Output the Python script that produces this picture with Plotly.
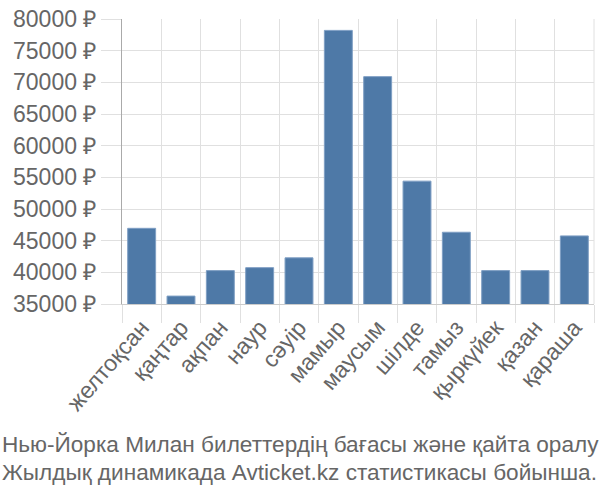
import plotly.graph_objects as go

months = ["желтоқсан", "қаңтар", "ақпан", "наур", "сәуір", "мамыр", "маусым",
          "шілде", "тамыз", "қыркүйек", "қазан", "қараша"]
prices = [46950, 36250, 40270, 40740, 42290, 78200, 70900, 54400, 46330, 40270, 40270, 45750]
y_ticks = [35000, 40000, 45000, 50000, 55000, 60000, 65000, 70000, 75000, 80000]
y_labels = [f"{v} ₽" for v in y_ticks]
title_lines = ["Нью-Йорка Милан билеттердің бағасы және қайта оралу",
               "Жылдық динамикада Avticket.kz статистикасы бойынша."]

fig = go.Figure(go.Bar(
    x=months, y=prices,
    marker=dict(color="#4e79a7", line=dict(color="#7f9fc4", width=1)),
))

fig.update_layout(
    width=600, height=500,
    margin=dict(l=122, r=6, t=14, b=196),
    paper_bgcolor="white", plot_bgcolor="white",
    bargap=0.29,
    showlegend=False,
    font=dict(family="Liberation Sans, Arial, sans-serif", size=19, color="#666"),
)
fig.update_yaxes(
    range=[35000, 80000],
    tickvals=y_ticks, ticktext=y_labels,
    showgrid=True, gridcolor="#e0e0e0", gridwidth=1,
    ticks="outside", ticklen=20, tickcolor="#e0e0e0",
    showline=True, linecolor="#aaaaaa", linewidth=1,
    zeroline=False,
    tickfont=dict(size=23, color="#666"),
)
fig.update_xaxes(
    tickangle=-49,
    showgrid=True, gridcolor="#e0e0e0", gridwidth=1,
    tickson="boundaries",
    ticks="outside", ticklen=18, tickcolor="#e0e0e0",
    showline=True, linecolor="#cccccc", linewidth=1,
    tickfont=dict(size=23, color="#666"),
)
fig.update_layout(shapes=[dict(type="line", xref="paper", yref="paper", x0=1, x1=1, y0=0, y1=1,
                               line=dict(color="#e0e0e0", width=1), layer="below")])

for i, line in enumerate(title_lines):
    fig.add_annotation(
        text=line, xref="paper", yref="paper",
        x=-122/472, xanchor="left",
        y=-(447 - 304) / 290 - i * 28 / 290,
        yanchor="middle", showarrow=False,
        font=dict(family="Liberation Sans, Arial", size=22.6, color="#666"),
    )

fig.write_html("out.html")
